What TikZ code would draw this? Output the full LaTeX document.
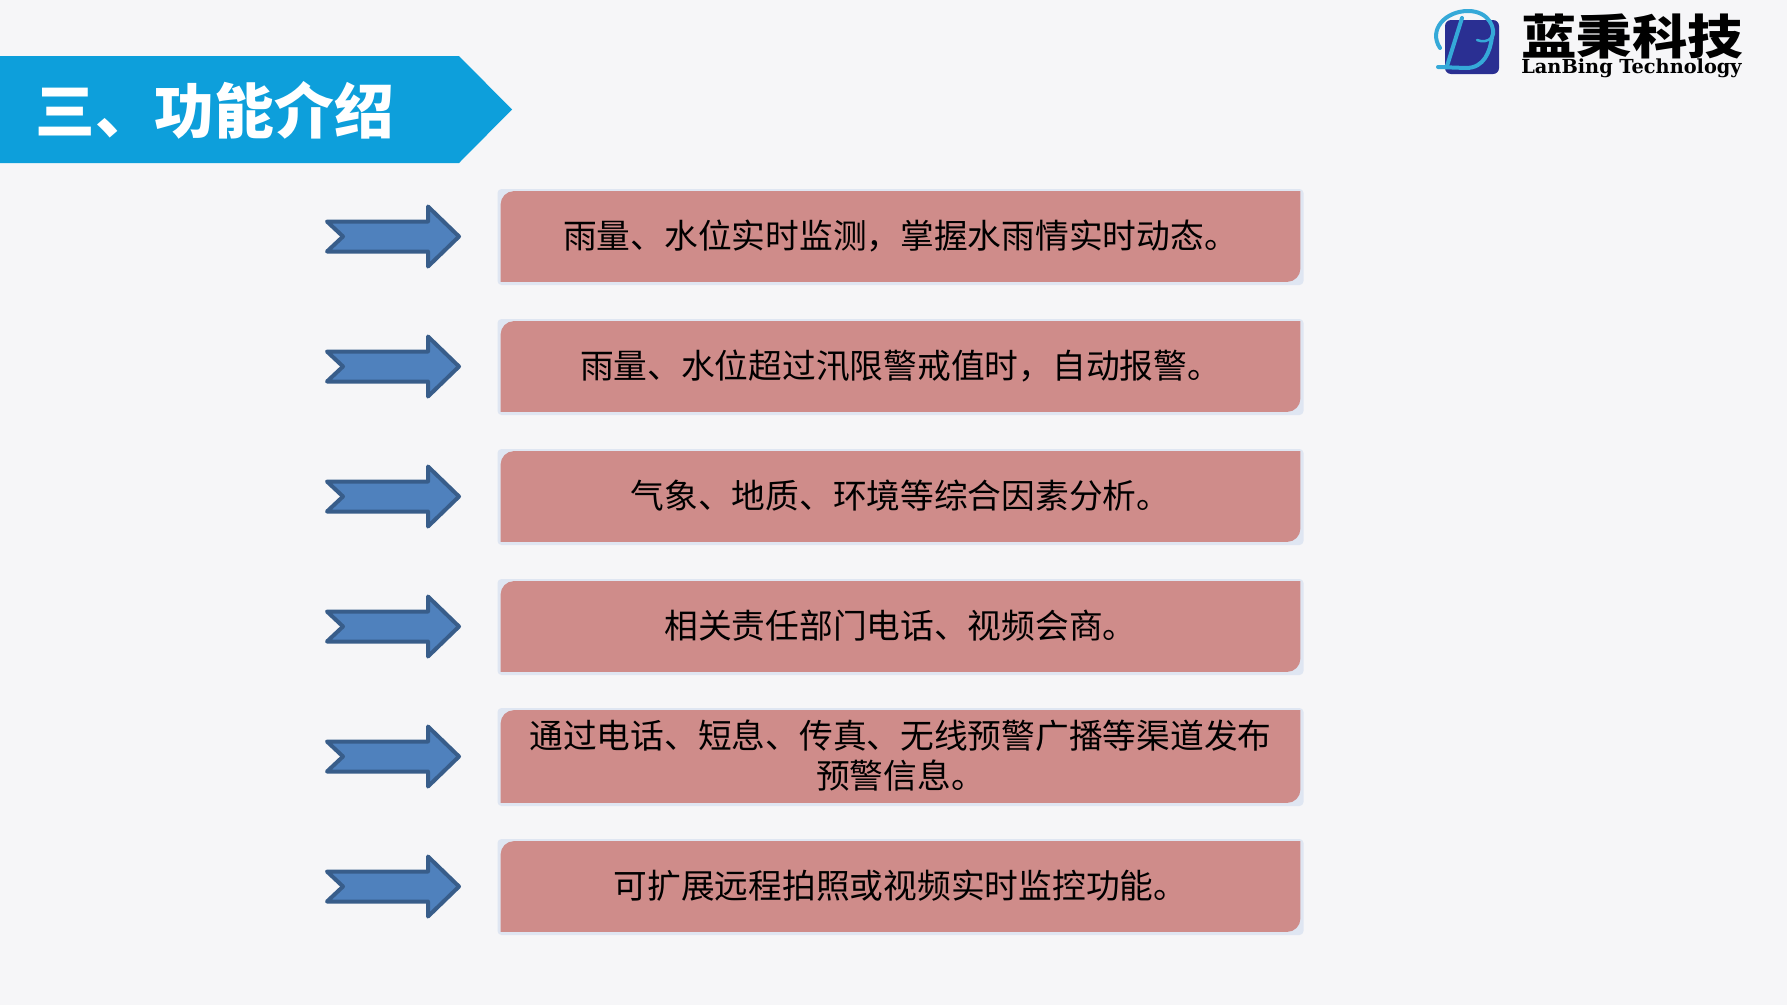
\documentclass[tikz,border=0pt]{standalone}
\usepackage{fontspec}
\usetikzlibrary{calc}
\newfontfamily\cjkfont{Noto Sans CJK SC}
\newfontfamily\logofont{DejaVu Serif}
\newcommand*{\pxw}{0.02cm}
\definecolor{pagebg}{HTML}{F6F6F8}
\definecolor{bannerblue}{HTML}{0D9FDB}
\definecolor{boxrose}{HTML}{CF8C8A}
\definecolor{boxedge}{HTML}{DFE6F2}
\definecolor{arrowfill}{HTML}{4F81BD}
\definecolor{arrowline}{HTML}{385D8A}
\definecolor{logoblue}{HTML}{2A2F92}
\definecolor{logocyan}{HTML}{35A9D8}
\tikzset{
	boxback/.style={
		minimum width = 806*\pxw,
		fill = boxedge,
		rounded corners = 4*\pxw,
		inner sep = 0pt
	},
	boxtext/.style={
		align = center,
		inner sep = 0pt,
		text = black,
		font = \cjkfont\fontsize{19.2}{22.8}\selectfont
	},
	boxfill/.style={
		fill = boxrose
	},
	arrowbody/.style={
		fill = arrowfill,
		draw = arrowline,
		line width = 4*\pxw,
		line join = round
	},
	logostroke/.style={
		draw = logocyan,
		line width = 4*\pxw,
		line cap = round
	}
}
\begin{document}
\begin{tikzpicture}[x=\pxw,y=-\pxw]
	\fill[pagebg] (0,0) rectangle (1787,1005);
	\useasboundingbox (0,0) rectangle (1787,1005);
	% title banner
	\fill[bannerblue] (0,56) -- (459,56) -- (512,109.5) -- (459,163) -- (0,163) -- cycle;
	\node (title) [anchor=west,inner sep=0pt,text=white,font=\cjkfont\bfseries\fontsize{34}{40}\selectfont] at (35,110) {三、功能介绍};
	% logo
	\fill[logoblue,rounded corners=6*\pxw] (1445,20) rectangle (1499,74);
	\draw[logostroke] (1440,48) .. controls (1428,30) and (1445,11) .. (1468,11)
		.. controls (1490,11) and (1496,30) .. (1492,37)
		.. controls (1490,52) and (1484,68) .. (1466,68) -- (1438,67);
	\draw[logostroke] (1462,18) -- (1447,66);
	\draw[logostroke,line width=2.5*\pxw] (1492,37) .. controls (1488,42) and (1482,42) .. (1477,40);
	\node (logocn) [anchor=west,inner sep=0pt,text=black,xscale=1.17,font=\cjkfont\bfseries\fontsize{27}{32}\selectfont] at (1521,36) {蓝秉科技};
	\node (logoen) [anchor=west,inner sep=0pt,text=black,font=\logofont\bfseries\fontsize{11}{12}\selectfont] at (1521,68) {LanBing Technology};
	% arrows and boxes
	\foreach \n/\y/\h/\txt in {
		1/237/92/{雨量、水位实时监测，掌握水雨情实时动态。},
		2/367/92/{雨量、水位超过汛限警戒值时，自动报警。},
		3/497/92/{气象、地质、环境等综合因素分析。},
		4/627/92/{相关责任部门电话、视频会商。},
		5/757/94/{通过电话、短息、传真、无线预警广播等渠道发布\\预警信息。},
		6/887/92/{可扩展远程拍照或视频实时监控功能。}} {
		\coordinate (ar\n) at (393,\y-0.5);
		\draw[arrowbody] ($(ar\n)+(-66,-15)$) -- ($(ar\n)+(35,-15)$) -- ($(ar\n)+(35,-30)$)
			-- ($(ar\n)+(66,0)$) -- ($(ar\n)+(35,30)$) -- ($(ar\n)+(35,15)$)
			-- ($(ar\n)+(-66,15)$) -- ($(ar\n)+(-50,0)$) -- cycle;
		\node (bk\n) [boxback,minimum height=(\h+4)*\pxw] at (900.5,\y) {};
		\coordinate (nw\n) at ($(bk\n.north west)+(3.5,2.5)$);
		\coordinate (ne\n) at ($(bk\n.north east)+(-3.5,2.5)$);
		\coordinate (se\n) at ($(bk\n.south east)+(-3.5,-3.5)$);
		\coordinate (sw\n) at ($(bk\n.south west)+(3.5,-3.5)$);
		\fill[boxfill] (sw\n) -- ($(nw\n)+(0,13)$) .. controls ($(nw\n)+(0,6)$) and ($(nw\n)+(6,0)$) .. ($(nw\n)+(13,0)$)
			-- (ne\n) -- ($(se\n)+(0,-13)$) .. controls ($(se\n)+(0,-6)$) and ($(se\n)+(-6,0)$) .. ($(se\n)+(-13,0)$) -- cycle;
		\node (tx\n) [boxtext] at ($(bk\n)+(0,-1)$) {\txt};
	};
\end{tikzpicture}
\end{document}
